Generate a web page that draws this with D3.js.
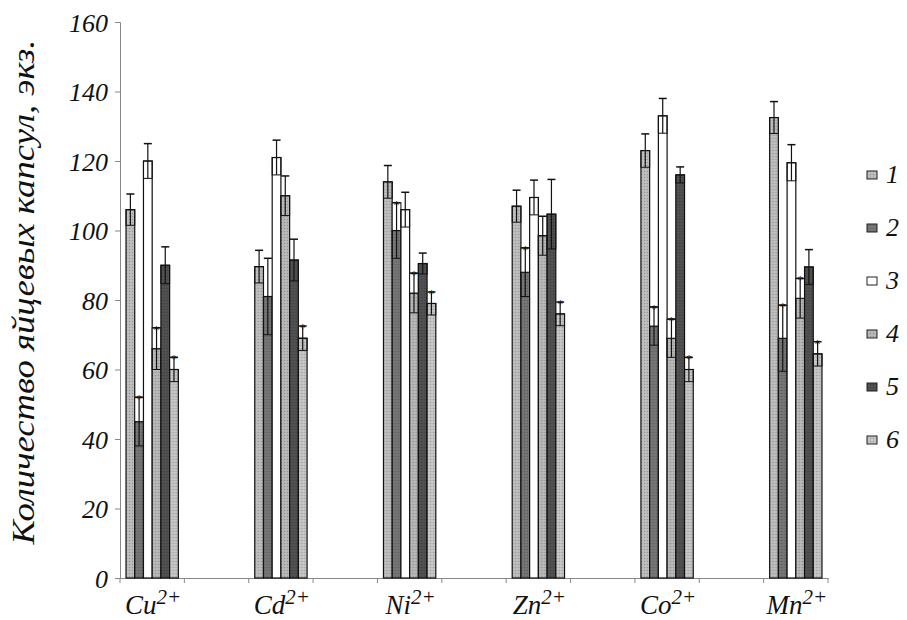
<!DOCTYPE html>
<html><head><meta charset="utf-8">
<script src="https://cdn.jsdelivr.net/npm/d3@7"></script>
<style>body{margin:0;background:#fff}</style>
</head><body>
<svg id="c" width="907" height="620"></svg>
<script>
const categories = ["Cu", "Cd", "Ni", "Zn", "Co", "Mn"];
const series = ["1", "2", "3", "4", "5", "6"];
// values[category][series]
const values = [
  [106, 45, 120, 66, 90, 60],
  [89.6, 81, 121, 110, 91.5, 69],
  [114, 100, 106, 82, 90.5, 79],
  [107, 88, 109.5, 98.5, 104.7, 76],
  [123, 72.5, 133, 69, 116, 60],
  [132.5, 69, 119.5, 80.5, 89.5, 64.5]
];
const errors = [
  [4.5, 7, 5, 6, 5.3, 3.5],
  [4.7, 11, 5, 5.7, 6, 3.5],
  [4.7, 8, 5, 5.7, 3, 3.3],
  [4.6, 7, 5, 5.6, 10, 3.4],
  [4.8, 5.5, 5, 5.5, 2.3, 3.5],
  [4.6, 9.5, 5.2, 5.7, 5, 3.5]
];
const starred = [
  [0, 1, 0, 1, 0, 1],
  [0, 0, 0, 0, 0, 1],
  [0, 1, 0, 1, 0, 1],
  [0, 1, 0, 0, 0, 1],
  [0, 1, 0, 1, 0, 1],
  [0, 1, 0, 1, 0, 1]
];
const yTicks = [0, 20, 40, 60, 80, 100, 120, 140, 160];
const yLabel = "Количество яйцевых капсул, экз.";
const colors = ["#b8b8b8", "#727272", "#ffffff", "#b2b2b2", "#4e4e4e", "#c0c0c0"];

const svg = d3.select("#c");
const serif = "'Liberation Serif','DejaVu Serif',serif";

// stipple textures
const defs = svg.append("defs");
colors.forEach((col, i) => {
  const p = defs.append("pattern").attr("id", "p" + i).attr("patternUnits", "userSpaceOnUse")
    .attr("width", 3).attr("height", 3);
  p.append("rect").attr("width", 3).attr("height", 3).attr("fill", col);
  if (i !== 2) {
    p.append("rect").attr("x", 0).attr("y", 0).attr("width", 1).attr("height", 1).attr("fill", d3.color(col).darker(0.6));
    p.append("rect").attr("x", 1.5).attr("y", 1.5).attr("width", 1).attr("height", 1).attr("fill", d3.color(col).brighter(0.4));
  }
});

// band domain with empty slots between categories
const slots = [];
categories.forEach((c, i) => { slots.push(c); if (i < categories.length - 1) slots.push("gap" + i); });

const x0 = d3.scaleBand().domain(slots).range([120, 828]).padding(0);
const x1 = d3.scaleBand().domain(series).range([0, x0.bandwidth()]).paddingInner(0).paddingOuter(0.69);
const y = d3.scaleLinear().domain([0, 160]).range([578, 22]);

// axes
const yAxis = d3.axisLeft(y).tickValues(yTicks).tickSize(5).tickFormat(d3.format("d"));
const gy = svg.append("g").attr("transform", "translate(120,0)").call(yAxis);
gy.attr("font-size", 26).attr("font-family", serif);
gy.select(".domain").attr("stroke", "#888");
gy.selectAll(".tick line").attr("stroke", "#888");
gy.selectAll(".tick text").attr("font-style", "italic").attr("fill", "#111").attr("x", -12).attr("dy", "0.35em");

const xAxis = d3.axisBottom(x0).tickValues([]).tickSizeOuter(0);
const gx = svg.append("g").attr("transform", "translate(0,578)").call(xAxis);
gx.select(".domain").attr("stroke", "#888");
// tick marks at slot boundaries
const bounds = slots.map(s => x0(s)).concat([x0.range()[1]]);
gx.selectAll("line.bt").data(bounds).join("line").attr("class", "bt")
  .attr("x1", d => d).attr("x2", d => d).attr("y1", 0).attr("y2", 5).attr("stroke", "#888");

// category labels
categories.forEach(c => {
  const t = svg.append("text").attr("x", x0(c) + x0.bandwidth() / 2 + 1).attr("y", 614)
    .attr("text-anchor", "middle").attr("font-family", serif).attr("font-size", 27)
    .attr("font-style", "italic").attr("fill", "#111");
  t.append("tspan").text(c);
  t.append("tspan").text("2+").attr("font-size", 21).attr("dy", -10);
});

// y label
svg.append("text").attr("transform", "translate(34,292) rotate(-90)").attr("text-anchor", "middle")
  .attr("font-family", serif).attr("font-style", "italic").attr("font-size", 31).attr("fill", "#111")
  .attr("textLength", 505).attr("lengthAdjust", "spacingAndGlyphs")
  .text(yLabel);

// bars
const flat = [];
categories.forEach((c, ci) => series.forEach((s, si) => flat.push({ c, s, ci, si, v: values[ci][si], e: errors[ci][si], st: starred[ci][si] })));

const g = svg.append("g");
const bw = x1.bandwidth();
const groups = g.selectAll("g.bar").data(flat).join("g").attr("class", "bar")
  .attr("transform", d => `translate(${x0(d.c) + x1(d.s)},0)`);

groups.append("rect").attr("x", 0).attr("width", bw).attr("y", d => y(d.v)).attr("height", d => y(0) - y(d.v))
  .attr("fill", d => `url(#p${d.si})`).attr("stroke", "#111").attr("stroke-width", 1.2);

// lower error box (v-e .. v)
groups.append("rect").attr("x", 0).attr("width", bw).attr("y", d => y(d.v)).attr("height", d => y(d.v - d.e) - y(d.v))
  .attr("fill", "none").attr("stroke", "#111").attr("stroke-width", 1);

// upper white box for starred bars of series 2 and 4
groups.filter(d => d.st && (d.si === 1 || d.si === 3)).append("rect")
  .attr("x", 0).attr("width", bw).attr("y", d => y(d.v + d.e)).attr("height", d => y(d.v) - y(d.v + d.e))
  .attr("fill", "#fff").attr("stroke", "#111").attr("stroke-width", 1);

// whisker
groups.append("line").attr("x1", bw / 2).attr("x2", bw / 2).attr("y1", d => y(d.v - d.e)).attr("y2", d => y(d.v + d.e))
  .attr("stroke", "#111").attr("stroke-width", 1.2);
groups.append("line").attr("x1", bw / 2 - 4).attr("x2", bw / 2 + 4).attr("y1", d => y(d.v + d.e)).attr("y2", d => y(d.v + d.e))
  .attr("stroke", "#111").attr("stroke-width", 1.5);

// stars
groups.filter(d => d.st).append("text").attr("x", bw / 2).attr("y", d => y(d.v + d.e) + 6)
  .attr("text-anchor", "middle").attr("font-family", serif).attr("font-size", 12).attr("fill", "#111").text("*");

// legend
const leg = svg.append("g");
series.forEach((s, i) => {
  const ly = 175 + i * 53;
  leg.append("rect").attr("x", 867).attr("y", ly - 4).attr("width", 10).attr("height", 8)
    .attr("fill", `url(#p${i})`).attr("stroke", "#222").attr("stroke-width", 1);
  leg.append("text").attr("x", 886).attr("y", ly + 8).attr("font-family", serif).attr("font-style", "italic")
    .attr("font-size", 26).attr("fill", "#111").text(s);
});
</script>
</body></html>
